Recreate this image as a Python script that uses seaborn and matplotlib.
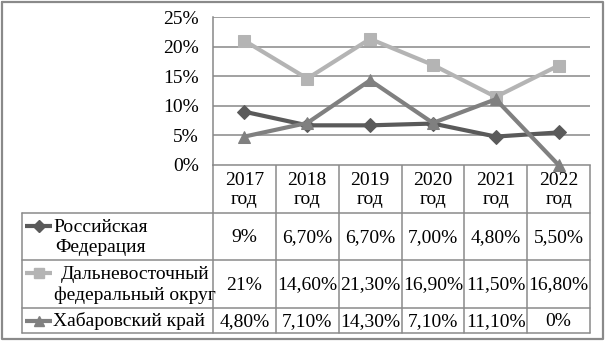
import matplotlib
matplotlib.use("Agg")
import matplotlib.pyplot as plt
from matplotlib.lines import Line2D
import seaborn as sns
import pandas as pd

years = ["2017", "2018", "2019", "2020", "2021", "2022"]
header_labels = ["2017\nгод", "2018\nгод", "2019\nгод", "2020\nгод", "2021\nгод", "2022\nгод"]
series_names = ["Российская\nФедерация", "Дальневосточный\nфедеральный округ", "Хабаровский край"]
rf_values = [9.0, 6.7, 6.7, 7.0, 4.8, 5.5]
dfo_values = [21.0, 14.6, 21.3, 16.9, 11.5, 16.8]
khab_values = [4.8, 7.1, 14.3, 7.1, 11.1, 0.0]
rf_labels = ["9%", "6,70%", "6,70%", "7,00%", "4,80%", "5,50%"]
dfo_labels = ["21%", "14,60%", "21,30%", "16,90%", "11,50%", "16,80%"]
khab_labels = ["4,80%", "7,10%", "14,30%", "7,10%", "11,10%", "0%"]
y_ticks = [0, 5, 10, 15, 20, 25]
y_tick_labels = ["0%", "5%", "10%", "15%", "20%", "25%"]

sns.set_theme(style="white")
plt.rcParams["font.family"] = ["Liberation Serif", "DejaVu Serif"]

colors = ["#5a5a5a", "#b4b4b4", "#808080"]
markers = ["D", "s", "^"]
msizes = [7, 8.5, 9]

rows = []
for name, vals in zip(series_names, [rf_values, dfo_values, khab_values]):
    for i, v in enumerate(vals):
        rows.append({"pos": i, "value": v, "series": name})
df = pd.DataFrame(rows)

W, H = 605, 342
fig = plt.figure(figsize=(W / 100, H / 100), dpi=100)
fig.patch.set_facecolor("white")

x0, x1, ytop, ybot = 213, 590, 17, 165
ax = fig.add_axes([x0 / W, 1 - ybot / H, (x1 - x0) / W, (ybot - ytop) / H])
ax.set_facecolor("white")

for name, c, m, ms in zip(series_names, colors, markers, msizes):
    sub = df[df["series"] == name]
    sns.lineplot(data=sub, x="pos", y="value", ax=ax, color=c, marker=m,
                 markersize=ms, markeredgecolor=c, linewidth=3, legend=False,
                 clip_on=False, zorder=3)

ax.set_xlim(-0.5, len(years) - 0.5)
ax.set_ylim(0, 25)
ax.set_yticks(y_ticks)
ax.set_yticklabels(y_tick_labels, fontsize=14, color="black")
ax.set_xticks([])
ax.set_xlabel("")
ax.set_ylabel("")
ax.tick_params(axis="y", length=0, pad=10)
ax.grid(axis="y", color="#878787", linewidth=1.1)
ax.set_axisbelow(True)
for s in ["right", "bottom", "top"]:
    ax.spines[s].set_visible(False)
ax.spines["left"].set_color("#878787")
ax.spines["left"].set_linewidth(1.1)

tax = fig.add_axes([0, 0, 1, 1], zorder=-1)
tax.set_xlim(0, W)
tax.set_ylim(H, 0)
tax.axis("off")

lc = "#8a8a8a"
lw = 1.1
tab_left = 22
row_y = [165, 213, 260, 308, 333]
col_x = [x0 + (x1 - x0) * i / len(years) for i in range(len(years) + 1)]

tax.plot([x0, x1], [row_y[0], row_y[0]], color=lc, lw=lw)
for y in row_y[1:]:
    tax.plot([tab_left, x1], [y, y], color=lc, lw=lw)
for cx in col_x:
    tax.plot([cx, cx], [row_y[0], row_y[-1]], color=lc, lw=lw)
tax.plot([tab_left, tab_left], [row_y[1], row_y[-1]], color=lc, lw=lw)

fs = 14
for i, lab in enumerate(header_labels):
    cx = (col_x[i] + col_x[i + 1]) / 2
    tax.text(cx, (row_y[0] + row_y[1]) / 2 + 1, lab, ha="center", va="center",
             fontsize=fs, linespacing=1.12, color="black")

all_labels = [rf_labels, dfo_labels, khab_labels]
key_dy = [-11, -11, 0]
text_x = [53, 54, 53]
for r, (name, labs, c, m, ms) in enumerate(zip(series_names, all_labels, colors, markers, msizes)):
    cy = (row_y[r + 1] + row_y[r + 2]) / 2
    ky = cy + key_dy[r]
    tax.add_line(Line2D([25, 52], [ky, ky], color=c, lw=3, solid_capstyle="butt"))
    tax.add_line(Line2D([39], [ky], color=c, marker=m, markersize=ms * 0.85,
                        markeredgecolor=c, lw=0))
    tax.text(text_x[r], cy + 1, name, ha="left", va="center", fontsize=fs,
             linespacing=1.3, multialignment="center", color="black")
    for i, lab in enumerate(labs):
        cx = (col_x[i] + col_x[i + 1]) / 2
        tax.text(cx, cy + 1, lab, ha="center", va="center", fontsize=fs, color="black")

tax.plot([2, 603, 603, 2, 2], [2, 2, 339, 339, 2], color="#8a8a8a", lw=1.6)

fig.savefig("out.png", dpi=100, facecolor="white")
